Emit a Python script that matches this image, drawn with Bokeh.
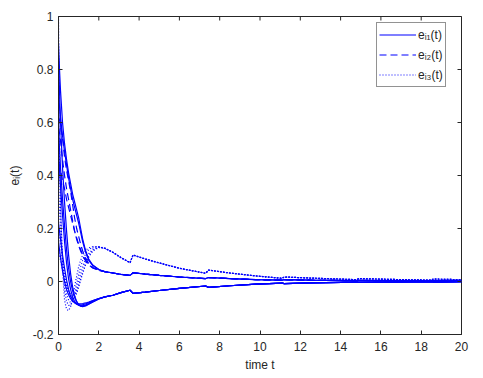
import math
from bokeh.plotting import figure
from bokeh.models import FixedTicker, Legend, LegendItem, Range1d
from bokeh.embed import file_html
from bokeh.resources import INLINE

# ---------------- data ----------------
T_HEAD = [0, 0.05, 0.1, 0.2, 0.3, 0.4, 0.5, 0.6, 0.7, 0.8, 0.9, 1.0, 1.1, 1.2, 1.35, 1.5, 1.7, 2.0, 2.3]
T_TAIL = [2.7, 3.1, 3.55, 3.7, 4.3, 5.0, 6.0, 7.3, 7.45, 8.5, 9.8, 11.1, 11.2, 12.5, 14.8, 14.9, 16.5, 18.5, 18.6, 20]

# tails of the three branches the curves settle on
TAIL_UPPER = [0.032, 0.027, 0.023, 0.033, 0.028, 0.023, 0.017, 0.011, 0.015, 0.011, 0.007, 0.005, 0.007, 0.005, 0.003, 0.004, 0.003, 0.002, 0.003, 0.002]
TAIL_LOWER = [-0.052, -0.042, -0.033, -0.045, -0.040, -0.034, -0.026, -0.017, -0.022, -0.016, -0.010, -0.006, -0.008, -0.005, -0.002, -0.003, -0.002, -0.001, -0.002, -0.001]
TAIL_DOTTED = [0.110, 0.090, 0.071, 0.100, 0.085, 0.070, 0.050, 0.031, 0.043, 0.032, 0.021, 0.012, 0.017, 0.013, 0.007, 0.011, 0.008, 0.005, 0.009, 0.007]

# e_i1(t): solid curves
SOLID_UPPER = [
    [0.90, 0.80, 0.72, 0.60, 0.52, 0.46, 0.41, 0.37, 0.33, 0.30, 0.27, 0.24, 0.20, 0.16, 0.115, 0.085, 0.062, 0.045, 0.037],
    [0.70, 0.66, 0.62, 0.55, 0.49, 0.44, 0.39, 0.35, 0.31, 0.28, 0.25, 0.22, 0.185, 0.15, 0.11, 0.08, 0.06, 0.045, 0.037],
]
SOLID_LOWER = [
    [0.85, 0.72, 0.60, 0.43, 0.30, 0.19, 0.10, 0.03, -0.02, -0.055, -0.075, -0.087, -0.093, -0.095, -0.092, -0.086, -0.077, -0.066, -0.058],
    [0.58, 0.50, 0.43, 0.31, 0.21, 0.12, 0.05, 0.0, -0.035, -0.06, -0.077, -0.087, -0.092, -0.093, -0.09, -0.085, -0.077, -0.066, -0.058],
    [0.48, 0.42, 0.36, 0.25, 0.15, 0.07, 0.01, -0.03, -0.058, -0.075, -0.085, -0.09, -0.092, -0.091, -0.088, -0.083, -0.075, -0.065, -0.058],
    [0.22, 0.19, 0.16, 0.10, 0.05, 0.005, -0.03, -0.055, -0.07, -0.08, -0.086, -0.088, -0.088, -0.087, -0.084, -0.08, -0.073, -0.064, -0.058],
    [0.15, 0.12, 0.09, 0.04, 0.0, -0.03, -0.05, -0.065, -0.074, -0.08, -0.083, -0.084, -0.084, -0.083, -0.081, -0.078, -0.072, -0.064, -0.058],
]
# e_i2(t): dashed curves
DASHED = [
    [0.62, 0.61, 0.59, 0.54, 0.47, 0.42, 0.38, 0.34, 0.29, 0.24, 0.20, 0.17, 0.14, 0.115, 0.088, 0.068, 0.053, 0.043, 0.037],
    [0.58, 0.56, 0.53, 0.46, 0.40, 0.35, 0.31, 0.27, 0.23, 0.19, 0.16, 0.135, 0.115, 0.097, 0.078, 0.063, 0.051, 0.042, 0.037],
    [0.45, 0.44, 0.42, 0.38, 0.35, 0.31, 0.28, 0.25, 0.22, 0.19, 0.165, 0.14, 0.12, 0.10, 0.08, 0.064, 0.052, 0.043, 0.037],
]
# e_i3(t): dotted curves
DOTTED = [
    [1.0, 0.55, 0.30, 0.05, -0.07, -0.105, -0.11, -0.095, -0.06, -0.02, 0.02, 0.055, 0.08, 0.10, 0.118, 0.127, 0.131, 0.13, 0.125],
    [0.70, 0.45, 0.28, 0.08, -0.03, -0.075, -0.09, -0.09, -0.075, -0.045, -0.01, 0.025, 0.055, 0.08, 0.105, 0.12, 0.13, 0.132, 0.126],
    [0.35, 0.27, 0.20, 0.08, 0.0, -0.045, -0.07, -0.08, -0.075, -0.055, -0.03, 0.0, 0.03, 0.055, 0.085, 0.105, 0.122, 0.13, 0.125],
    [0.20, 0.17, 0.14, 0.08, 0.03, -0.01, -0.04, -0.058, -0.065, -0.06, -0.045, -0.02, 0.005, 0.03, 0.065, 0.092, 0.115, 0.128, 0.125],
    [0.12, 0.10, 0.08, 0.04, 0.01, -0.015, -0.035, -0.05, -0.057, -0.055, -0.04, -0.018, 0.01, 0.037, 0.07, 0.097, 0.118, 0.13, 0.126],
]

X_TICKS = [0, 2, 4, 6, 8, 10, 12, 14, 16, 18, 20]
Y_TICKS = [-0.2, 0, 0.2, 0.4, 0.6, 0.8, 1]
Y_TICK_LABELS = ["-0.2", "0", "0.2", "0.4", "0.6", "0.8", "1"]
X_MIN, X_MAX = 0, 20
Y_MIN, Y_MAX = -0.2, 1
LEGEND_LABELS = ["e\u1d62\u2081(t)", "e\u1d62\u2082(t)", "e\u1d62\u2083(t)"]

# ---------------- plot ----------------
BLUE = "#0000FF"
AX = "#262626"
FONT = "Liberation Sans"

p = figure(frame_width=403, frame_height=318,
           x_range=Range1d(X_MIN, X_MAX), y_range=Range1d(Y_MIN, Y_MAX),
           output_backend="svg", toolbar_location=None,
           min_border_left=58, min_border_right=14, min_border_top=16, min_border_bottom=36)
p.grid.visible = False
p.outline_line_color = AX
p.outline_line_width = 1
p.background_fill_color = "white"
p.border_fill_color = "white"

T = T_HEAD + T_TAIL
lw = 1.2
r_solid = []
for ys in SOLID_UPPER:
    r_solid.append(p.line(T, ys + TAIL_UPPER, line_color=BLUE, line_width=lw))
for ys in SOLID_LOWER:
    r_solid.append(p.line(T, ys + TAIL_LOWER, line_color=BLUE, line_width=lw))
r_dash = []
for ys in DASHED:
    r_dash.append(p.line(T, ys + TAIL_UPPER, line_color=BLUE, line_width=lw, line_dash="7 4"))
r_dot = []
for ys in DOTTED:
    r_dot.append(p.line(T, ys + TAIL_DOTTED, line_color=BLUE, line_width=lw, line_dash="1 2"))

# inward tick marks on the top and right edges of the box (half of each dash is clipped away)
p.scatter(X_TICKS, [Y_MAX] * len(X_TICKS), marker="dash", size=8, angle=math.pi / 2,
          line_color=AX, line_width=1)
p.scatter([X_MAX] * len(Y_TICKS), Y_TICKS, marker="dash", size=8,
          line_color=AX, line_width=1)


def style_axis(ax, ticks):
    ax.ticker = FixedTicker(ticks=ticks)
    ax.major_tick_in = 4
    ax.major_tick_out = 0
    ax.minor_tick_line_color = None
    ax.axis_line_color = AX
    ax.major_tick_line_color = AX
    ax.major_label_text_color = AX
    ax.major_label_text_font = FONT
    ax.major_label_text_font_size = "12px"
    ax.axis_label_text_font = FONT
    ax.axis_label_text_font_size = "12px"
    ax.axis_label_text_font_style = "normal"
    ax.axis_label_text_color = AX


style_axis(p.xaxis[0], X_TICKS)
style_axis(p.yaxis[0], Y_TICKS)
p.xaxis[0].axis_label = "time t"
p.xaxis[0].major_label_standoff = 7
p.xaxis[0].axis_label_standoff = 4
p.yaxis[0].axis_label = "e\u1d62(t)"
p.yaxis[0].major_label_standoff = 5
p.yaxis[0].axis_label_standoff = 8
p.yaxis[0].major_label_overrides = {v: s for v, s in zip(Y_TICKS, Y_TICK_LABELS)}

legend = Legend(items=[LegendItem(label=LEGEND_LABELS[0], renderers=[r_solid[0]]),
                       LegendItem(label=LEGEND_LABELS[1], renderers=[r_dash[0]]),
                       LegendItem(label=LEGEND_LABELS[2], renderers=[r_dot[0]])],
                location=(318, 247))
legend.padding = 2
legend.spacing = 1
legend.margin = 0
legend.glyph_width = 37
legend.glyph_height = 19
legend.label_height = 19
legend.label_standoff = 2
legend.label_text_font = FONT
legend.label_text_font_size = "12px"
legend.label_text_color = AX
legend.border_line_color = AX
legend.border_line_width = 1
legend.background_fill_alpha = 1.0
p.add_layout(legend, "center")

open("out.html", "w").write(file_html(p, INLINE))
